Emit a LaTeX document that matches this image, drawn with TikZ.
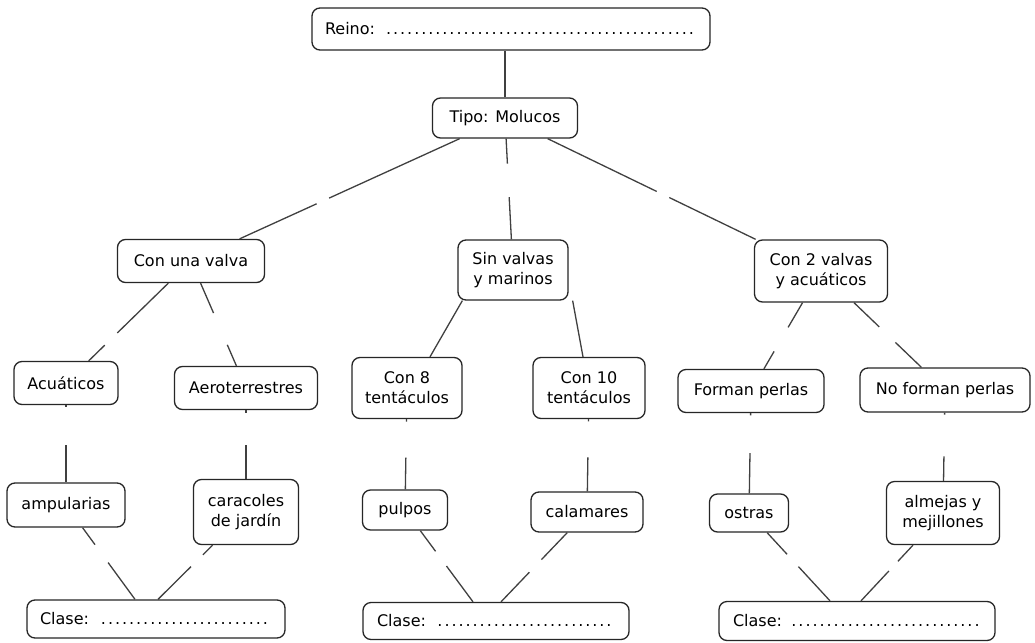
\documentclass[tikz,border=0pt]{standalone}
\usepackage{fontspec}
\setmainfont{DejaVu Sans}
\usetikzlibrary{calc}

% connector with an empty gap where the linking words would go
\newcommand{\gaplink}[4]{\draw[link] (#1) -- ($(#1)!#3!(#2)$) ($(#1)!#4!(#2)$) -- (#2);}

\begin{document}
\begin{tikzpicture}[x=1pt, y=-1pt,
	every node/.style={font=\fontsize{16}{20}\selectfont},
	box/.style={draw=black!85, line width=1.3pt, rounded corners=8pt, align=center, inner sep=0pt},
	link/.style={draw=black!75, line width=1.3pt}]
	\path[use as bounding box, fill=white] (0,0) rectangle (1035,642);

	\node[box, minimum width=398pt, minimum height=42pt, text width=372pt, align=left] (reino) at (511,29) {Reino: \dotfill};
	\node[box, minimum width=145pt, minimum height=40pt] (tipo) at (505,118) {Tipo: Molucos};

	\node[box, minimum width=147pt, minimum height=43pt] (unavalva) at (191,261) {Con una valva};
	\node[box, minimum width=110pt, minimum height=60pt] (sinvalvas) at (513,270) {Sin valvas\\y marinos};
	\node[box, minimum width=133pt, minimum height=62pt] (dosvalvas) at (821,271) {Con 2 valvas\\y acuáticos};

	\node[box, minimum width=104pt, minimum height=43pt] (acuaticos) at (66,383) {Acuáticos};
	\node[box, minimum width=143pt, minimum height=43pt] (aero) at (246,388) {Aeroterrestres};
	\node[box, minimum width=110pt, minimum height=61pt] (ocho) at (407,388) {Con 8\\tentáculos};
	\node[box, minimum width=112pt, minimum height=61pt] (diez) at (589,388) {Con 10\\tentáculos};
	\node[box, minimum width=146pt, minimum height=43pt] (forman) at (751,391) {Forman perlas};
	\node[box, minimum width=170pt, minimum height=44pt] (noforman) at (945,390) {No forman perlas};

	\node[box, minimum width=118pt, minimum height=44pt] (ampularias) at (66,505) {ampularias};
	\node[box, minimum width=105pt, minimum height=65pt] (caracoles) at (246,512) {caracoles\\de jardín};
	\node[box, minimum width=85pt, minimum height=40pt] (pulpos) at (405,510) {pulpos};
	\node[box, minimum width=112pt, minimum height=40pt] (calamares) at (587,512) {calamares};
	\node[box, minimum width=79pt, minimum height=38pt] (ostras) at (749,513) {ostras};
	\node[box, minimum width=113pt, minimum height=63pt] (almejas) at (943,513) {almejas y\\mejillones};

	\node[box, minimum width=258pt, minimum height=38pt, text width=232pt, align=left] (clase1) at (156,619) {Clase: \dotfill};
	\node[box, minimum width=266pt, minimum height=37pt, text width=238pt, align=left] (clase2) at (496,621) {Clase: \dotfill};
	\node[box, minimum width=276pt, minimum height=39pt, text width=248pt, align=left] (clase3) at (857,621) {Clase: \dotfill};

	\coordinate (c1a) at ([xshift=-21pt]clase1.north);
	\coordinate (c1b) at ([xshift=2pt]clase1.north);
	\coordinate (c2a) at ([xshift=-23pt]clase2.north);
	\coordinate (c2b) at ([xshift=5pt]clase2.north);
	\coordinate (c3a) at ([xshift=-27pt]clase3.north);
	\coordinate (c3b) at ([xshift=4pt]clase3.north);

	\draw[link] (tipo) -- (tipo |- reino.south);
	\gaplink{tipo}{unavalva}{.56}{.60}
	\gaplink{tipo}{sinvalvas}{.30}{.52}
	\gaplink{tipo}{dosvalvas}{.48}{.52}

	\gaplink{unavalva}{acuaticos}{.59}{.69}
	\gaplink{unavalva}{aero}{.41}{.66}
	\draw[link] ([xshift=5pt]sinvalvas.south west) -- ([xshift=23pt]ocho.north);
	\draw[link] ([xshift=4pt]sinvalvas.south east) -- ([xshift=-6pt]diez.north);
	\gaplink{dosvalvas}{forman}{.47}{.67}
	\gaplink{dosvalvas}{noforman}{.47}{.60}

	\gaplink{acuaticos}{ampularias}{.20}{.51}
	\gaplink{aero}{caracoles}{.20}{.46}
	\gaplink{ocho}{pulpos}{.275}{.57}
	\gaplink{diez}{calamares}{.27}{.56}
	\gaplink{forman}{ostras}{.20}{.51}
	\gaplink{noforman}{almejas}{.20}{.54}

	\gaplink{ampularias}{c1a}{.42}{.61}
	\gaplink{caracoles}{c1b}{.49}{.625}
	\gaplink{pulpos}{c2a}{.45}{.61}
	\gaplink{calamares}{c2b}{.53}{.67}
	\gaplink{ostras}{c3a}{.47}{.61}
	\gaplink{almejas}{c3b}{.55}{.66}
\end{tikzpicture}
\end{document}
